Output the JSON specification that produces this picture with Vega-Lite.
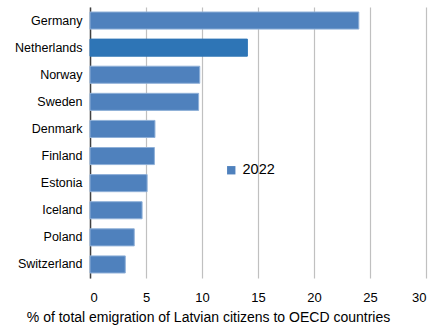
{
  "$schema": "https://vega.github.io/schema/vega-lite/v6.json",
  "width": 336,
  "height": 271,
  "autosize": {"type": "none"},
  "padding": {"left": 90, "top": 7, "right": 9, "bottom": 51},
  "background": "white",
  "config": {"view": {"stroke": null}, "font": "Liberation Sans"},
  "data": {"values": [
    {"country": "Germany", "value": 24.0, "series": "2022"},
    {"country": "Netherlands", "value": 14.05, "series": "2022"},
    {"country": "Norway", "value": 9.8, "series": "2022"},
    {"country": "Sweden", "value": 9.7, "series": "2022"},
    {"country": "Denmark", "value": 5.8, "series": "2022"},
    {"country": "Finland", "value": 5.75, "series": "2022"},
    {"country": "Estonia", "value": 5.1, "series": "2022"},
    {"country": "Iceland", "value": 4.65, "series": "2022"},
    {"country": "Poland", "value": 3.95, "series": "2022"},
    {"country": "Switzerland", "value": 3.15, "series": "2022"}
  ]},
  "mark": {"type": "bar", "stroke": "#8fb0d8", "strokeWidth": 1},
  "encoding": {
    "y": {
      "field": "country", "type": "nominal", "sort": null,
      "scale": {"paddingInner": 0.37, "paddingOuter": 0.185},
      "axis": {"title": null, "ticks": false, "grid": false, "domainColor": "#404040", "domainWidth": 1.5,
               "labelFontSize": 12.5, "labelColor": "#000000", "labelPadding": 8, "labelFont": "Liberation Sans"}
    },
    "x": {
      "field": "value", "type": "quantitative",
      "scale": {"domain": [0, 30], "nice": false},
      "axis": {"values": [0, 5, 10, 15, 20, 25, 30], "domain": false, "ticks": false, "grid": true,
               "gridColor": "#c0c0c0", "gridWidth": 1.2, "labelFontSize": 13, "labelColor": "#000000",
               "labelPadding": 13, "labelFont": "Liberation Sans",
               "title": "% of total emigration of Latvian citizens to OECD countries",
               "titleFontSize": 14, "titleFontWeight": "normal", "titleColor": "#000000", "titlePadding": 6,
               "titleFont": "Liberation Sans", "titleX": 118, "titleAnchor": null, "titleAlign": "center"}
    },
    "color": {
      "condition": {"test": "datum.country === 'Netherlands'", "value": "#2e75b6"},
      "field": "series", "type": "nominal",
      "scale": {"range": ["#4f81bd"]},
      "legend": {"title": null, "orient": "none", "legendX": 134, "legendY": 156, "symbolType": "square",
                 "symbolSize": 70, "symbolStrokeWidth": 0, "labelFontSize": 14.5, "labelColor": "#000000",
                 "labelFont": "Liberation Sans", "padding": 0, "labelOffset": 4}
    },
    "stroke": {"condition": {"test": "datum.country === 'Netherlands'", "value": "#2e75b6"}, "value": "#8fb0d8"}
  }
}
